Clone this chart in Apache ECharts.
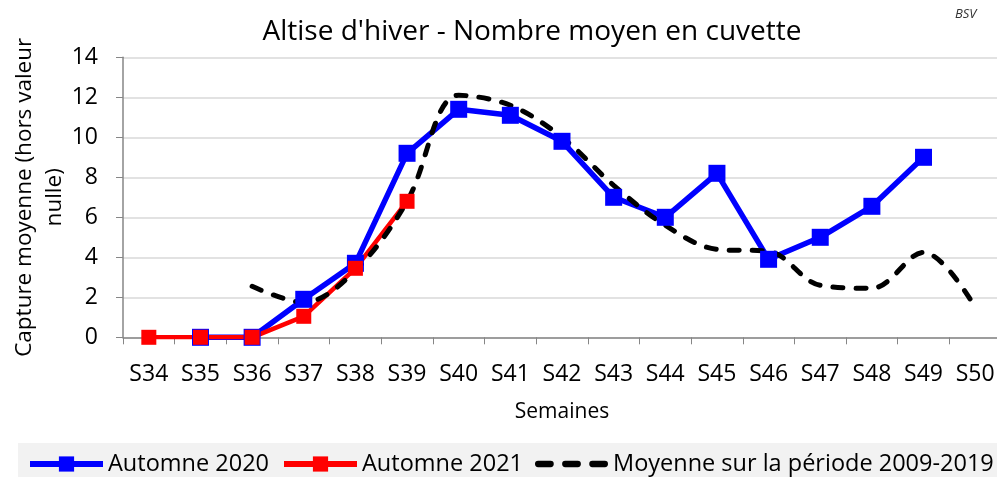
<!DOCTYPE html>
<html><head><meta charset="utf-8">
<script src="https://cdn.jsdelivr.net/npm/echarts@6/dist/echarts.min.js"></script>
<style>html,body{margin:0;padding:0;background:#fff}#c{width:997px;height:477px}</style>
</head><body><div id="c"></div>
<script>
var categories = ['S34','S35','S36','S37','S38','S39','S40','S41','S42','S43','S44','S45','S46','S47','S48','S49','S50'];
var automne2020 = [null,0,0,1.9,3.7,9.2,11.4,11.1,9.8,7.0,6.0,8.2,3.9,5.0,6.55,9.0,null];
var automne2021 = [0,0,0,1.05,3.45,6.8,null,null,null,null,null,null,null,null,null,null,null];
var moyenne = [null,null,2.55,1.75,3.35,6.8,12.1,11.6,10.0,7.6,5.6,4.4,4.3,2.6,2.45,4.25,1.5];
var yTicks = {min:0,max:14,interval:2};
var FONT = '"Open Sans", sans-serif';
var chart = echarts.init(document.getElementById('c'), null, {renderer:'canvas'});
chart.setOption({
  animation:false,
  backgroundColor:'#fff',
  title:{text:"Altise d'hiver - Nombre moyen en cuvette",left:527,textAlign:'center',top:13,
    textStyle:{fontFamily:FONT,fontSize:28,fontWeight:'normal',color:'#000'}},
  graphic:[
    {type:'rect',shape:{x:18,y:443,width:979,height:34},style:{fill:'#f2f2f2'},z:-10},
    {type:'text',left:955,top:8,style:{text:'BSV',fontFamily:FONT,fontSize:13,fontStyle:'italic',fill:'#333'}}
  ],
  grid:{left:123,right:-4,top:57.3,bottom:139.7,containLabel:false,outerBoundsMode:'none'},
  legend:{top:452,left:27,padding:0,itemWidth:73,itemHeight:19,itemGap:12,symbolKeepAspect:true,
    lineStyle:{width:6},
    textStyle:{fontFamily:FONT,fontSize:23.5,color:'#000',padding:[0,0,0,0]},
    data:[
      {name:'Automne 2020'},
      {name:'Automne 2021'},
      {name:'Moyenne sur la période 2009-2019',icon:'path://M3,0h12a3,3 0 0 1 0,6h-12a3,3 0 0 1 0,-6z M29,0h12a3,3 0 0 1 0,6h-12a3,3 0 0 1 0,-6z M55,0h12a3,3 0 0 1 0,6h-12a3,3 0 0 1 0,-6z',itemStyle:{color:'#000'}}
    ]},
  xAxis:{type:'category',data:categories,boundaryGap:true,
    axisLine:{lineStyle:{color:'#868686',width:1.5}},
    axisTick:{show:true,alignWithLabel:false,length:7,lineStyle:{color:'#868686'}},
    axisLabel:{fontFamily:FONT,fontSize:23,color:'#000',margin:26},
    name:'Semaines',nameLocation:'middle',nameGap:64,nameMoveOverlap:false,
    nameTextStyle:{fontFamily:FONT,fontSize:21,color:'#000'}},
  yAxis:{type:'value',min:yTicks.min,max:yTicks.max,interval:yTicks.interval,
    axisLine:{show:true,lineStyle:{color:'#868686',width:1.5}},
    axisTick:{show:true,length:7,lineStyle:{color:'#868686'}},
    splitLine:{lineStyle:{color:'#d9d9d9',width:1.5}},
    axisLabel:{fontFamily:FONT,fontSize:23,color:'#000',margin:25},
    name:'Capture moyenne (hors valeur\nnulle)',nameLocation:'middle',nameGap:53,nameMoveOverlap:false,
    nameTextStyle:{fontFamily:FONT,fontSize:22.5,color:'#000',lineHeight:30}},
  series:[
    {name:'Automne 2020',type:'line',data:automne2020,symbol:'rect',symbolSize:17,
      lineStyle:{color:'#0000ff',width:5.5},itemStyle:{color:'#0000ff'},connectNulls:false},
    {name:'Automne 2021',type:'line',data:automne2021,symbol:'rect',symbolSize:15,
      lineStyle:{color:'#ff0000',width:4.5},itemStyle:{color:'#ff0000'}},
    {name:'Moyenne sur la période 2009-2019',type:'line',data:moyenne,symbol:'none',smooth:0.35,
      lineStyle:{color:'#000',width:5,type:[10,13],cap:'round'},itemStyle:{color:'#000'}}
  ]
});
</script></body></html>
